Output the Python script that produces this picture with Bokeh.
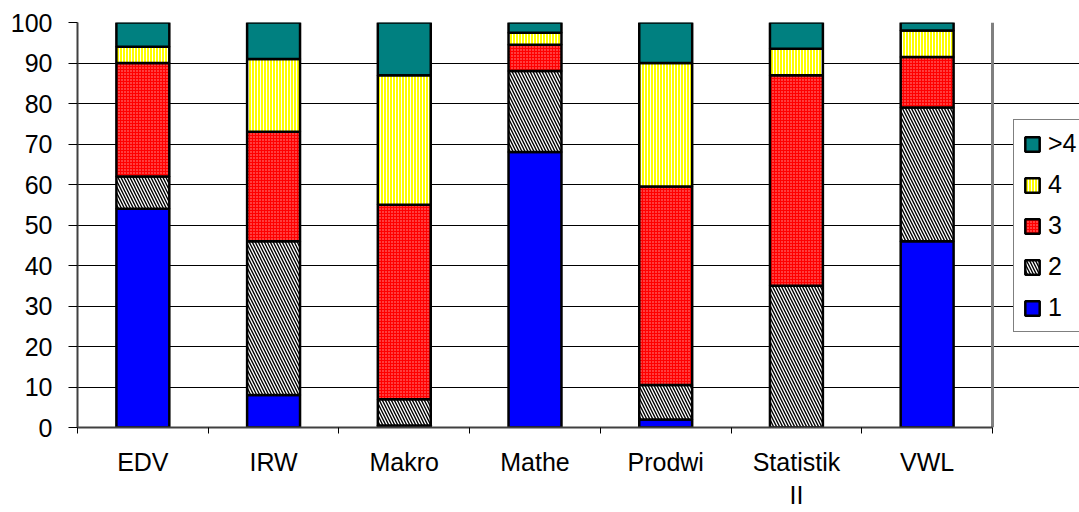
from bokeh.plotting import figure
from bokeh.models import FixedTicker, Legend, LegendItem, ColumnDataSource, Range1d, Grid
from bokeh.embed import file_html
from bokeh.resources import INLINE

categories = ["EDV", "IRW", "Makro", "Mathe", "Prodwi", "Statistik\nII", "VWL"]
series_names = ["1", "2", "3", "4", ">4"]
grade_1 = [54, 8, 0.5, 68, 2, 0, 46]
grade_2 = [8, 38, 6.5, 20, 8.5, 35, 33]
grade_3 = [28, 27, 48, 6.5, 49, 52, 12.5]
grade_4 = [4, 18, 32, 3, 30.5, 6.5, 6.5]
grade_gt4 = [6, 9, 13, 2.5, 10, 6.5, 2]
y_ticks = [0, 10, 20, 30, 40, 50, 60, 70, 80, 90, 100]

FONT = "Liberation Sans"
FS = "25px"
W, H = 1079, 512
LEFT, PLOT_W = 77, 915
n = len(categories)
xs = [i + 0.5 for i in range(n)]
keys = ["g1", "g2", "g3", "g4", "g5"]
src = ColumnDataSource(dict(x=xs, g1=grade_1, g2=grade_2, g3=grade_3, g4=grade_4, g5=grade_gt4))

# frame extends to the right edge so the legend can sit inside it
x_end = n * (W - LEFT) / PLOT_W
p = figure(width=W, height=H, output_backend="svg", toolbar_location=None,
           x_range=Range1d(0, x_end), y_range=Range1d(0, 100),
           min_border_left=LEFT, min_border_right=0, min_border_top=22, min_border_bottom=84)
p.background_fill_color = "white"
p.border_fill_color = "white"
p.outline_line_color = None

renderers = p.vbar_stack(keys, x="x", width=0.405, source=src,
                         fill_color=["#0000FF", "#FFFFFF", "#FF0000", "#FFFF00", "#008080"],
                         hatch_pattern=[" ", "left_diagonal_line", "dot", "vertical_line", " "],
                         hatch_color=["black", "black", "#FF9A9A", "white", "black"],
                         hatch_scale=[6, 6, 3, 3, 6],
                         hatch_weight=[1, 1.4, 1, 1, 1],
                         line_color="black", line_width=2.5)

xt = FixedTicker(ticks=xs, minor_ticks=list(range(n + 1)))
p.xaxis.ticker = xt
p.xaxis.bounds = (0, n)
p.xaxis.major_label_overrides = {x: c for x, c in zip(xs, categories)}
p.xaxis.major_tick_out = 0
p.xaxis.major_tick_in = 0
p.xaxis.minor_tick_out = 6
p.xaxis.minor_tick_in = 0
p.xaxis.minor_tick_line_color = "black"
p.xaxis.major_label_standoff = 14

p.yaxis.ticker = FixedTicker(ticks=y_ticks)
p.yaxis.major_tick_out = 9
p.yaxis.major_tick_in = 0
p.yaxis.minor_tick_line_color = None
p.yaxis.major_label_standoff = 16

for ax in (p.xaxis[0], p.yaxis[0]):
    ax.axis_line_color = "#404040"
    ax.axis_line_width = 2
    ax.major_tick_line_color = "black"
    ax.major_label_text_font = FONT
    ax.major_label_text_font_size = FS
    ax.major_label_text_color = "black"

p.xgrid.visible = False
p.ygrid.ticker = FixedTicker(ticks=y_ticks[1:-1])
p.ygrid.bounds = (0, n)
p.ygrid.grid_line_color = "black"
p.ygrid.grid_line_width = 1

# plot-area border (top and right) in grey
top_border = Grid(dimension=1, ticker=FixedTicker(ticks=[100]), bounds=(0, n),
                  grid_line_color="#808080", grid_line_width=3)
right_border = Grid(dimension=0, ticker=FixedTicker(ticks=[n]), bounds=(0, 100),
                    grid_line_color="#808080", grid_line_width=3)
p.add_layout(top_border)
p.add_layout(right_border)

items = [LegendItem(label=s, renderers=[r]) for s, r in zip(series_names, renderers)][::-1]
legend = Legend(items=items, location=(936, 95))
legend.label_text_font = FONT
legend.label_text_font_size = FS
legend.label_text_color = "black"
legend.glyph_width = 18
legend.glyph_height = 18
legend.label_standoff = 7
legend.spacing = 12
legend.padding = 9
legend.margin = 0
legend.border_line_color = "black"
legend.border_line_width = 1
legend.background_fill_color = "white"
legend.background_fill_alpha = 1
p.add_layout(legend, "center")

open("out.html", "w").write(file_html(p, INLINE))
